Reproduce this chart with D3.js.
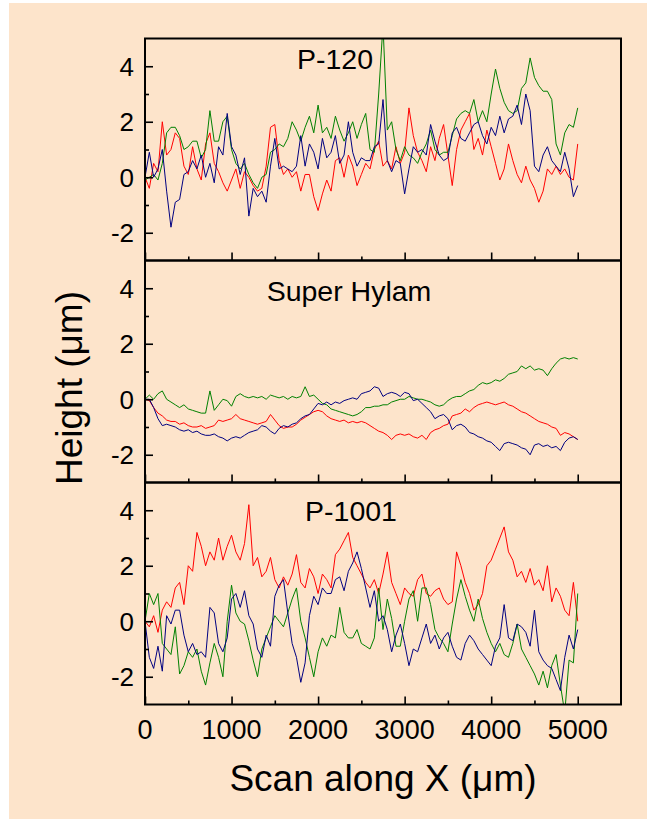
<!DOCTYPE html>
<html><head><meta charset="utf-8">
<script src="https://cdn.jsdelivr.net/npm/d3@7"></script>
<style>html,body{margin:0;padding:0;background:#fff;} svg{display:block;}</style>
</head><body><svg id="c" width="647" height="834"></svg>
<script>
// ---------- data ----------
const xGrid = d3.range(0, 5001, 50);           // scan positions (µm)
const xTicks = [0, 1000, 2000, 3000, 4000, 5000];
const xMinorTicks = [500, 1500, 2500, 3500, 4500];
const yTicks = [-2, 0, 2, 4];
const yMinorTicks = [-1, 1, 3];
const panelTitles = ["P-120", "Super Hylam", "P-1001"];
const seriesColors = ["#FF0000", "#008000", "#000080"];

const p120Red = [0.0,-0.4,0.5,0.2,2.0,0.8,1.0,1.6,1.4,0.4,0.1,1.1,0.3,-0.1,1.2,1.6,0.5,0.2,-0.2,-0.5,
 -0.1,0.3,-0.4,0.2,0.0,-0.3,-0.5,-0.4,0.4,1.8,1.9,0.6,0.1,0.3,0.0,0.2,-0.5,0.1,0.1,-0.7,
 -1.2,-0.6,-0.1,-0.5,0.6,0.7,0.0,0.8,0.4,-0.3,0.1,0.5,0.3,1.0,1.3,0.4,0.6,0.3,1.1,0.5,
 0.9,2.5,1.5,0.9,0.6,0.2,1.1,0.6,1.4,1.9,0.8,-0.3,1.0,1.7,2.0,2.3,1.0,1.4,0.8,1.7,
 1.1,0.5,-0.1,0.3,1.2,0.6,0.1,-0.2,0.4,-0.1,-0.4,-0.9,-0.5,0.3,0.1,0.4,0.1,0.3,0.0,-0.1,1.2];
const p120Green = [-0.1,0.0,0.1,-0.1,0.5,1.6,1.8,1.8,1.5,1.0,1.1,1.3,1.3,0.7,1.0,2.4,1.3,1.3,2.0,2.2,
 1.0,0.5,0.3,0.5,0.1,-0.2,-0.4,0.0,0.1,0.9,1.0,1.2,1.1,1.4,2.0,1.7,1.3,1.8,2.2,1.6,
 2.6,1.6,1.8,1.4,2.2,1.7,1.3,1.6,2.0,1.4,1.9,2.3,1.0,0.9,3.0,5.5,1.7,2.0,1.0,0.6,
 1.1,0.8,0.7,0.5,0.9,1.2,1.7,1.0,0.8,0.9,0.9,1.5,2.1,2.3,2.4,2.3,2.8,2.0,2.4,2.0,
 3.0,3.9,3.2,2.7,2.4,2.3,2.4,3.2,3.4,4.3,3.6,3.3,3.1,3.1,2.8,1.2,0.8,1.6,1.9,1.8,2.5];
const p120Blue = [0.0,0.9,0.0,0.3,1.0,-0.5,-1.8,-0.9,-0.8,0.1,0.2,0.6,0.3,0.8,0.0,0.5,-0.2,1.1,0.8,2.3,
 1.1,0.8,0.1,0.7,-1.4,-0.4,-0.7,-0.5,-0.9,0.4,1.4,0.3,0.4,0.3,0.2,0.4,1.5,0.4,1.2,0.9,
 0.3,1.4,0.7,0.9,1.5,0.5,0.8,2.0,0.9,0.4,0.7,0.6,0.6,1.1,1.2,2.8,0.6,0.2,0.6,0.5,
 -0.6,0.3,1.1,0.9,1.0,0.8,1.9,1.3,0.8,0.6,0.7,1.6,1.8,1.4,1.3,1.6,1.9,2.0,1.5,1.2,
 1.8,1.5,2.2,1.6,2.1,2.2,2.6,1.9,3.0,2.4,0.4,0.2,0.8,1.1,0.6,0.4,0.2,0.9,0.3,-0.7,-0.3];

const hylamRed = [0.0,-0.05,-0.3,-0.5,-0.6,-0.75,-0.8,-0.8,-0.9,-0.85,-0.95,-1.0,-1.0,-0.95,-1.05,-1.0,-0.95,-0.75,-0.8,-0.75,
 -0.7,-0.55,-0.7,-0.75,-0.8,-0.85,-0.9,-0.85,-0.8,-0.55,-0.75,-0.95,-1.05,-1.0,-1.0,-0.9,-0.75,-0.65,-0.55,-0.45,
 -0.4,-0.45,-0.6,-0.7,-0.75,-0.8,-0.75,-0.85,-0.8,-0.85,-0.8,-0.85,-0.95,-1.05,-1.15,-1.2,-1.3,-1.45,-1.3,-1.25,
 -1.3,-1.25,-1.35,-1.4,-1.3,-1.45,-1.2,-1.1,-1.05,-0.95,-0.9,-0.6,-0.55,-0.5,-0.35,-0.45,-0.3,-0.2,-0.15,-0.1,
 -0.15,-0.2,-0.15,-0.1,-0.2,-0.25,-0.35,-0.45,-0.5,-0.6,-0.7,-0.8,-0.85,-0.9,-1.0,-1.05,-1.3,-1.2,-1.25,-1.35,-1.45];
const hylamGreen = [0.0,0.15,0.0,0.2,0.3,0.0,-0.1,-0.2,-0.3,-0.2,-0.35,-0.4,-0.45,-0.5,-0.5,0.3,-0.4,-0.2,0.0,-0.05,
 -0.25,0.1,0.2,0.1,0.05,0.1,0.05,0.1,0.0,0.15,0.1,0.05,0.1,0.0,0.1,0.05,0.1,0.45,0.1,0.15,
 0.0,-0.15,-0.2,-0.35,-0.4,-0.45,-0.5,-0.55,-0.6,-0.55,-0.45,-0.3,-0.3,-0.25,-0.25,-0.2,-0.2,-0.1,-0.05,0.0,
 0.0,0.1,0.05,0.0,0.0,-0.05,-0.1,-0.2,-0.25,-0.2,-0.05,0.05,0.1,0.1,0.2,0.3,0.35,0.5,0.6,0.55,
 0.6,0.7,0.65,0.75,0.9,0.95,1.0,1.2,1.1,1.2,1.05,1.1,1.05,0.85,1.1,1.3,1.45,1.5,1.45,1.5,1.45];
const hylamBlue = [0.0,0.0,-0.3,-0.7,-0.95,-0.9,-0.95,-1.0,-1.1,-1.15,-1.1,-1.2,-1.15,-1.25,-1.3,-1.3,-1.25,-1.35,-1.4,-1.5,
 -1.4,-1.35,-1.4,-1.3,-1.2,-1.15,-1.1,-0.95,-1.0,-1.15,-1.25,-1.05,-0.95,-1.0,-0.9,-0.85,-0.7,-0.6,-0.55,-0.35,
 -0.15,-0.2,-0.1,-0.2,-0.1,-0.15,-0.05,0.0,0.05,0.0,0.2,0.25,0.3,0.45,0.4,0.1,0.2,0.25,0.2,0.1,
 0.25,0.2,-0.05,0.0,-0.15,-0.3,-0.45,-0.7,-0.6,-0.55,-0.7,-1.1,-0.95,-0.9,-1.0,-1.2,-1.25,-1.35,-1.4,-1.5,
 -1.55,-1.7,-1.85,-1.6,-1.55,-1.6,-1.65,-1.75,-1.8,-2.0,-1.65,-1.6,-1.7,-1.65,-1.75,-1.7,-1.85,-1.55,-1.4,-1.35,-1.45];

const p1001Red = [0.0,-0.2,0.2,-0.4,0.4,0.7,0.5,1.2,1.4,0.6,2.0,1.8,3.2,2.7,2.0,2.5,2.2,3.0,2.2,2.7,
 3.1,2.5,2.2,2.8,4.2,2.0,2.3,1.6,1.8,2.3,1.5,1.2,1.6,1.3,1.7,2.4,1.4,1.2,1.9,1.6,
 1.0,1.7,1.5,1.2,2.4,2.6,2.9,3.2,2.3,2.0,1.7,1.4,1.2,1.5,1.0,1.7,2.5,1.4,1.0,0.6,
 1.2,1.0,0.9,1.5,1.7,1.0,0.9,1.1,1.2,0.8,0.6,0.7,2.5,2.0,1.4,1.0,0.4,0.6,1.0,2.0,
 2.2,2.6,3.0,3.4,2.5,2.2,1.6,1.8,1.4,1.9,1.3,1.5,1.1,2.0,0.7,1.2,0.9,0.4,0.2,1.4,0.0];
const p1001Green = [0.0,1.0,0.6,1.0,-0.8,-1.0,-1.2,-0.2,-1.9,-1.6,-1.1,-1.3,-1.0,-1.8,-2.3,-1.5,-0.8,-1.3,-2.0,0.0,
 1.3,0.3,0.0,-0.1,-0.7,-1.4,-2.0,-1.0,-0.6,-0.2,0.2,0.0,-0.2,0.3,0.8,1.2,0.0,-0.6,-1.3,-2.0,
 -1.1,-0.6,-0.9,-0.5,-0.6,0.5,-0.4,-0.6,-0.6,-0.3,-0.8,-0.9,-1.0,-0.6,1.2,-0.3,0.8,0.1,-0.9,-0.9,
 0.0,0.8,1.1,0.0,1.2,1.2,0.6,-0.3,-0.6,-0.8,-1.1,-0.1,0.8,1.5,0.9,0.4,0.0,0.8,0.1,-0.4,
 -0.8,-1.1,-0.8,-1.2,-1.3,-0.8,-0.1,-1.0,-1.3,-1.6,-1.9,-2.3,-1.8,-2.4,-1.6,-1.2,-2.3,-3.3,-1.4,-1.5,1.0];
const p1001Blue = [0.0,-1.3,-1.7,-0.9,-1.8,0.2,-0.1,0.4,0.4,-0.5,-1.1,-0.8,-1.2,-1.1,-1.3,0.5,0.3,-0.8,-1.1,-0.6,
 0.8,1.0,0.5,1.1,0.2,-0.1,-1.0,-1.3,-0.5,-0.9,0.9,1.3,1.5,0.3,-0.8,-1.3,-2.2,-1.5,0.2,0.9,
 0.6,1.2,1.0,1.0,1.5,1.6,1.1,1.8,2.1,2.5,1.9,1.2,0.5,1.1,0.0,0.2,-0.3,-1.1,-0.5,-0.1,
 -0.8,-1.6,-1.0,-1.1,-0.6,-0.1,-0.8,-0.5,-1.0,-0.6,-0.4,-0.9,-1.3,-1.4,-0.8,-0.5,-0.7,-1.0,-1.2,-1.4,
 -1.6,-0.9,-0.6,0.6,-0.6,-0.7,-0.1,-0.2,-0.4,-0.9,0.4,-1.1,-1.4,-1.6,-1.7,-2.1,-2.5,-1.3,-0.5,-1.0,-0.3];

const panelSeries = [
  [p120Red, p120Green, p120Blue],
  [hylamRed, hylamGreen, hylamBlue],
  [p1001Red, p1001Green, p1001Blue]
];

// ---------- layout ----------
const svg = d3.select("#c");
const font = "'Liberation Sans', Arial, Helvetica, sans-serif";
const plotL = 145, plotR = 621, plotT = 38.5, panelH = 222;
const bg = "#FDE4CB";

svg.append("rect").attr("x", 0).attr("y", 0).attr("width", 647).attr("height", 834).attr("fill", "#FFFFFF");
svg.append("rect").attr("x", 9).attr("y", 3).attr("width", 638).attr("height", 816).attr("fill", bg);

const x = d3.scaleLinear().domain([0, 5500]).range([plotL, plotR]);

panelSeries.forEach((series, i) => {
  const top = plotT + panelH * i, bottom = top + panelH;
  const y = d3.scaleLinear().domain([-3, 5]).range([bottom, top]);
  const g = svg.append("g");

  const clipId = "clip" + i;
  svg.append("clipPath").attr("id", clipId).append("rect")
    .attr("x", plotL).attr("y", top).attr("width", plotR - plotL).attr("height", panelH);

  const line = d3.line().x((d, j) => x(xGrid[j])).y(d => y(d));
  const lg = g.append("g").attr("clip-path", `url(#${clipId})`);
  series.forEach((s, k) => {
    lg.append("path").attr("d", line(s)).attr("fill", "none")
      .attr("stroke", seriesColors[k]).attr("stroke-width", 1.0).attr("stroke-linejoin", "round");
  });

  // ticks (inward)
  const axB = g.append("g").attr("transform", `translate(0,${bottom})`)
    .call(d3.axisBottom(x).tickValues(xTicks).tickSizeInner(-8).tickSizeOuter(0).tickFormat(""));
  const axBm = g.append("g").attr("transform", `translate(0,${bottom})`)
    .call(d3.axisBottom(x).tickValues(xMinorTicks).tickSizeInner(-4).tickSizeOuter(0).tickFormat(""));
  const axL = g.append("g").attr("transform", `translate(${plotL},0)`)
    .call(d3.axisLeft(y).tickValues(yTicks).tickSizeInner(-8).tickSizeOuter(0).tickFormat(""));
  const axLm = g.append("g").attr("transform", `translate(${plotL},0)`)
    .call(d3.axisLeft(y).tickValues(yMinorTicks).tickSizeInner(-4).tickSizeOuter(0).tickFormat(""));
  [axB, axBm, axL, axLm].forEach(a => {
    a.select(".domain").remove();
    a.selectAll("line").attr("stroke", "#000").attr("stroke-width", 1.6);
  });

  // frame
  g.append("rect").attr("x", plotL).attr("y", top).attr("width", plotR - plotL).attr("height", panelH)
    .attr("fill", "none").attr("stroke", "#000").attr("stroke-width", 2);

  // y tick labels
  yTicks.forEach(v => {
    g.append("text").attr("x", 134).attr("y", y(v))
      .attr("text-anchor", "end").attr("dy", "0.36em")
      .attr("font-family", font).attr("font-size", 26).attr("fill", "#000").text(v);
  });

  // panel title
  const tX = [335, 349, 351][i], tY = [69, 300.5, 520.5][i];
  g.append("text").attr("x", tX).attr("y", tY)
    .attr("text-anchor", "middle").attr("font-family", font).attr("font-size", 28.5)
    .attr("fill", "#000").text(panelTitles[i]);

  if (i === 2) {
    xTicks.forEach(v => {
      g.append("text").attr("x", x(v)).attr("y", 739)
        .attr("text-anchor", "middle").attr("font-family", font).attr("font-size", 27)
        .attr("fill", "#000").text(v);
    });
  }
});

// axis titles
svg.append("text").attr("x", (plotL + plotR) / 2).attr("y", 791)
  .attr("text-anchor", "middle").attr("font-family", font).attr("font-size", 37)
  .attr("fill", "#000").text("Scan along X (\u03BCm)");
svg.append("text").attr("transform", `translate(82,388) rotate(-90)`)
  .attr("text-anchor", "middle").attr("font-family", font).attr("font-size", 37)
  .attr("fill", "#000").text("Height (\u03BCm)");
</script></body></html>
